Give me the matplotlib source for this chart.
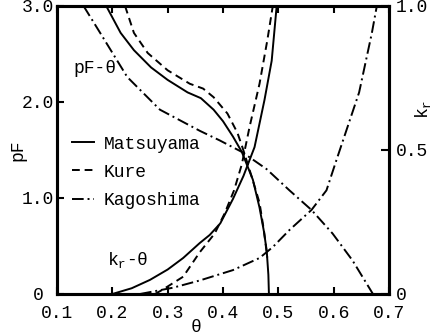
import matplotlib
matplotlib.use("Agg")
import matplotlib.pyplot as plt
import numpy as np

plt.rcParams['font.family'] = ['Liberation Mono', 'DejaVu Sans Mono']
plt.rcParams['font.size'] = 13

# pF - theta curves (left axis)
th_pf_mat = [0.189, 0.215, 0.239, 0.270, 0.300, 0.336, 0.360, 0.383, 0.400, 0.418, 0.434, 0.454, 0.466, 0.474, 0.479, 0.482, 0.483]
pf_mat = [3.0, 2.72, 2.54, 2.36, 2.23, 2.10, 2.04, 1.92, 1.80, 1.64, 1.48, 1.19, 0.90, 0.65, 0.45, 0.20, 0.0]

th_pf_kure = [0.223, 0.239, 0.264, 0.300, 0.340, 0.364, 0.383, 0.408, 0.426, 0.435, 0.452, 0.466, 0.474, 0.480]
pf_kure = [3.0, 2.72, 2.51, 2.33, 2.19, 2.14, 2.05, 1.88, 1.68, 1.53, 1.22, 0.95, 0.66, 0.38]

th_pf_kago = [0.148, 0.178, 0.227, 0.286, 0.358, 0.394, 0.434, 0.479, 0.520, 0.560, 0.598, 0.634, 0.671]
pf_kago = [3.0, 2.72, 2.26, 1.92, 1.70, 1.60, 1.48, 1.30, 1.08, 0.875, 0.63, 0.35, 0.0]

# kr - theta curves (right axis)
th_kr_mat = [0.200, 0.235, 0.268, 0.300, 0.328, 0.358, 0.376, 0.395, 0.418, 0.437, 0.457, 0.475, 0.488, 0.497]
kr_mat = [0.0, 0.02, 0.049, 0.085, 0.125, 0.177, 0.205, 0.245, 0.33, 0.41, 0.51, 0.674, 0.81, 1.0]

th_kr_kure = [0.277, 0.290, 0.328, 0.358, 0.385, 0.403, 0.420, 0.434, 0.448, 0.466, 0.480, 0.490]
kr_kure = [0.0, 0.014, 0.06, 0.145, 0.21, 0.28, 0.36, 0.45, 0.58, 0.73, 0.88, 1.0]

th_kr_kago = [0.250, 0.310, 0.358, 0.418, 0.466, 0.490, 0.520, 0.560, 0.587, 0.605, 0.646, 0.669, 0.678]
kr_kago = [0.0, 0.022, 0.047, 0.083, 0.125, 0.163, 0.222, 0.292, 0.36, 0.465, 0.70, 0.906, 1.0]

names = ['Matsuyama', 'Kure', 'Kagoshima']
dash = (4, 2.5)
dashdot = (6, 2, 1, 2)

fig = plt.figure(figsize=(4.33, 3.36), dpi=100)
ax = fig.add_axes([57/433, 42/336, 332/433, 288/336])
ax2 = ax.twinx()

lw = 1.4
ax.plot(th_pf_mat, pf_mat, color='k', lw=lw, label=names[0])
ax.plot(th_pf_kure, pf_kure, color='k', lw=lw, dashes=dash, label=names[1])
ax.plot(th_pf_kago, pf_kago, color='k', lw=lw, dashes=dashdot, label=names[2])

ax2.plot(th_kr_mat, kr_mat, color='k', lw=lw)
ax2.plot(th_kr_kure, kr_kure, color='k', lw=lw, dashes=dash)
ax2.plot(th_kr_kago, kr_kago, color='k', lw=lw, dashes=dashdot)

ax.set_xlim(0.1, 0.7)
ax.set_ylim(0, 3.0)
ax2.set_ylim(0, 1.0)

ax.set_xticks([0.1, 0.2, 0.3, 0.4, 0.5, 0.6, 0.7])
ax.set_xticklabels(['0.1', '0.2', '0.3', '0.4', '0.5', '0.6', '0.7'])
ax.set_yticks([0, 1, 2, 3])
ax.set_yticklabels(['0 ', '1.0', '2.0', '3.0'])
ax2.set_yticks([0, 0.5, 1.0])
ax2.set_yticklabels(['0', '0.5', '1.0'])

ax.tick_params(axis='both', direction='in', length=5, width=1.5, top=True)
ax.tick_params(axis='x', pad=8)
ax.tick_params(axis='y', pad=2)
ax2.tick_params(axis='y', direction='in', length=6, width=1.5, pad=5)

for a in (ax, ax2):
    for s in a.spines.values():
        s.set_linewidth(2.2)

ax.set_ylabel('pF', va='center', ha='center')
ax.yaxis.set_label_coords(-0.117, 0.5)
ax.set_xlabel('θ', va='center', ha='center')
ax.xaxis.set_label_coords(0.42, -0.118)
ax2.set_ylabel('k$_{\\mathregular{r}}$', rotation=90, va='center', ha='center')
ax2.yaxis.set_label_coords(1.102, 0.64)

ax.text(0.130, 2.35, 'pF-θ', va='center', ha='left')
ax.text(0.191, 0.35, 'k$_{\\mathregular{r}}$-θ', va='center', ha='left')

ax.legend(loc='upper left', bbox_to_anchor=(0.045, 0.55), frameon=False,
          handlelength=1.2, handletextpad=0.55, labelspacing=0.62,
          borderpad=0, borderaxespad=0)

fig.savefig('out.png', dpi=100)
